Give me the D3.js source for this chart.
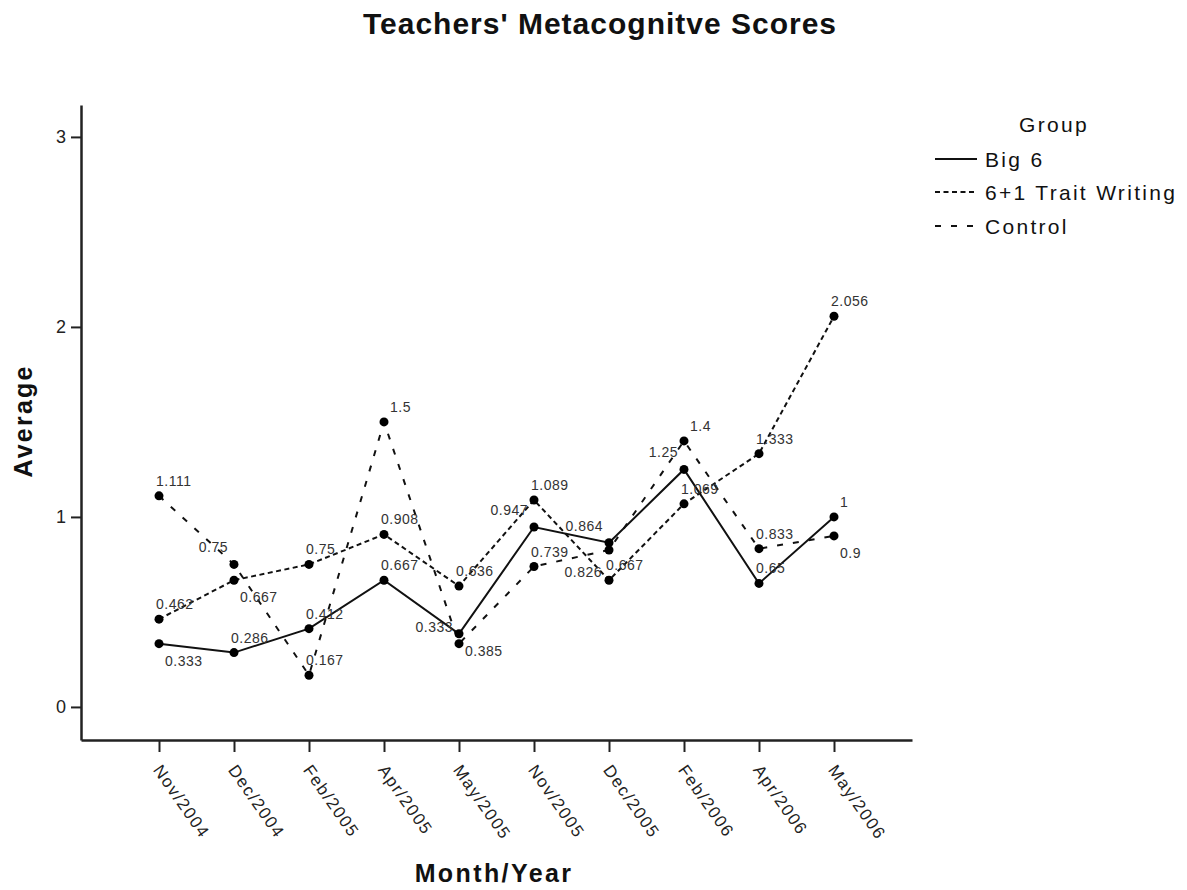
<!DOCTYPE html>
<html lang="en">
<head>
  <meta charset="UTF-8" />
  <title>Teachers' Metacognitve Scores</title>
  <style>
    body {
      margin: 0;
      background: #fff;
      font-family: "Liberation Sans", Arial, sans-serif;
    }
    svg {
      display: block;
    }
    .axis path, .axis line {
      stroke: #222;
    }
    .axis text {
      fill: #222;
      font-family: "Liberation Sans", Arial, sans-serif;
    }
  </style>
</head>
<body>
  <svg id="chart" width="1187" height="890" viewBox="0 0 1187 890" xmlns="http://www.w3.org/2000/svg"></svg>

  <script src="https://d3js.org/d3.v7.min.js"></script>
  <script>
    // values
    const months = ["Nov/2004", "Dec/2004", "Feb/2005", "Apr/2005", "May/2005",
                    "Nov/2005", "Dec/2005", "Feb/2006", "Apr/2006", "May/2006"];
    const big6 = [0.333, 0.286, 0.412, 0.667, 0.385, 0.947, 0.864, 1.25, 0.65, 1];
    const traitWriting = [0.462, 0.667, 0.75, 0.908, 0.636, 1.089, 0.667, 1.069, 1.333, 2.056];
    const control = [1.111, 0.75, 0.167, 1.5, 0.333, 0.739, 0.826, 1.4, 0.833, 0.9];
    const groupNames = ["Big 6", "6+1 Trait Writing", "Control"];
    const yTicks = [0, 1, 2, 3];

    // where each value label sits next to its point (a = above, ar = above right,
    // al = above left, br = below right, bl = below left)
    const big6Place = ["br", "a", "a", "a", "br", "al", "al", "al", "a", "ar"];
    const traitPlace = ["a", "br", "a", "a", "a", "a", "a", "a", "a", "a"];
    const controlPlace = ["a", "al", "a", "ar", "al", "a", "bl", "ar", "a", "br"];

    const placeOffsets = {
      a:  { dx: -3, dy: -10, anchor: "start" },
      ar: { dx: 6,  dy: -10, anchor: "start" },
      al: { dx: -6, dy: -12, anchor: "end" },
      br: { dx: 6,  dy: 22,  anchor: "start" },
      bl: { dx: -7, dy: 27,  anchor: "end" }
    };

    const series = [
      { name: groupNames[0], values: big6, place: big6Place, dash: null },
      { name: groupNames[1], values: traitWriting, place: traitPlace, dash: "5,3.5" },
      { name: groupNames[2], values: control, place: controlPlace, dash: "6,10" }
    ];

    const svg = d3.select("#chart");

    const x = d3.scalePoint()
      .domain(months)
      .range([81, 912])
      .padding(1.04);

    const y = d3.scaleLinear()
      .domain([-0.174, 3.168])
      .range([740, 105]);

    // title
    svg.append("text")
      .attr("x", 600)
      .attr("y", 34)
      .attr("text-anchor", "middle")
      .attr("font-size", 30)
      .attr("font-weight", "bold")
      .attr("letter-spacing", 1)
      .attr("fill", "#111")
      .text("Teachers' Metacognitve Scores");

    // axes
    const xAxis = svg.append("g")
      .attr("class", "axis")
      .attr("transform", "translate(0,740)")
      .call(d3.axisBottom(x).tickSize(12).tickSizeOuter(0));
    xAxis.select(".domain").attr("stroke-width", 2.5);
    xAxis.selectAll(".tick line").attr("stroke-width", 2);
    xAxis.selectAll("text")
      .attr("font-size", 17)
      .attr("letter-spacing", 1.5)
      .attr("text-anchor", "start")
      .attr("x", -7)
      .attr("y", 30)
      .attr("dy", 0)
      .attr("transform", "rotate(55,-7,30)");

    const yAxis = svg.append("g")
      .attr("class", "axis")
      .attr("transform", "translate(81,0)")
      .call(d3.axisLeft(y).tickValues(yTicks).tickFormat(d3.format("d"))
        .tickSize(10).tickSizeOuter(0).tickPadding(5));
    yAxis.select(".domain").attr("stroke-width", 2.5);
    yAxis.selectAll(".tick line").attr("stroke-width", 2);
    yAxis.selectAll("text").attr("font-size", 18);

    // axis titles
    svg.append("text")
      .attr("x", 494)
      .attr("y", 882)
      .attr("text-anchor", "middle")
      .attr("font-size", 25)
      .attr("font-weight", "bold")
      .attr("letter-spacing", 2.4)
      .attr("fill", "#111")
      .text("Month/Year");

    svg.append("text")
      .attr("transform", "translate(32,421) rotate(-90)")
      .attr("text-anchor", "middle")
      .attr("font-size", 25)
      .attr("font-weight", "bold")
      .attr("letter-spacing", 2.2)
      .attr("fill", "#111")
      .text("Average");

    // lines, points, labels
    const line = d3.line()
      .x((d, i) => x(months[i]))
      .y(d => y(d));

    series.forEach(s => {
      svg.append("path")
        .datum(s.values)
        .attr("fill", "none")
        .attr("stroke", "#111")
        .attr("stroke-width", 2)
        .attr("stroke-dasharray", s.dash)
        .attr("d", line);
    });

    series.forEach(s => {
      svg.append("g")
        .selectAll("circle")
        .data(s.values)
        .enter().append("circle")
        .attr("cx", (d, i) => x(months[i]))
        .attr("cy", d => y(d))
        .attr("r", 4.5)
        .attr("fill", "#000");
    });

    series.forEach(s => {
      svg.append("g")
        .selectAll("text")
        .data(s.values)
        .enter().append("text")
        .attr("x", (d, i) => x(months[i]) + placeOffsets[s.place[i]].dx)
        .attr("y", (d, i) => y(d) + placeOffsets[s.place[i]].dy)
        .attr("text-anchor", (d, i) => placeOffsets[s.place[i]].anchor)
        .attr("font-size", 14)
        .attr("letter-spacing", 0.5)
        .attr("fill", "#333")
        .text(d => String(d));
    });

    // legend
    const legend = svg.append("g");
    legend.append("text")
      .attr("x", 1054)
      .attr("y", 132)
      .attr("text-anchor", "middle")
      .attr("font-size", 21)
      .attr("letter-spacing", 2.3)
      .attr("fill", "#111")
      .text("Group");

    const legendY = [159, 192, 226];
    series.forEach((s, i) => {
      legend.append("line")
        .attr("x1", 935)
        .attr("x2", 977)
        .attr("y1", legendY[i])
        .attr("y2", legendY[i])
        .attr("stroke", "#111")
        .attr("stroke-width", 2)
        .attr("stroke-dasharray", s.dash);
      legend.append("text")
        .attr("x", 985)
        .attr("y", legendY[i] + 8)
        .attr("font-size", 21)
        .attr("letter-spacing", 2.3)
        .attr("fill", "#111")
        .text(s.name);
    });
  </script>
</body>
</html>
